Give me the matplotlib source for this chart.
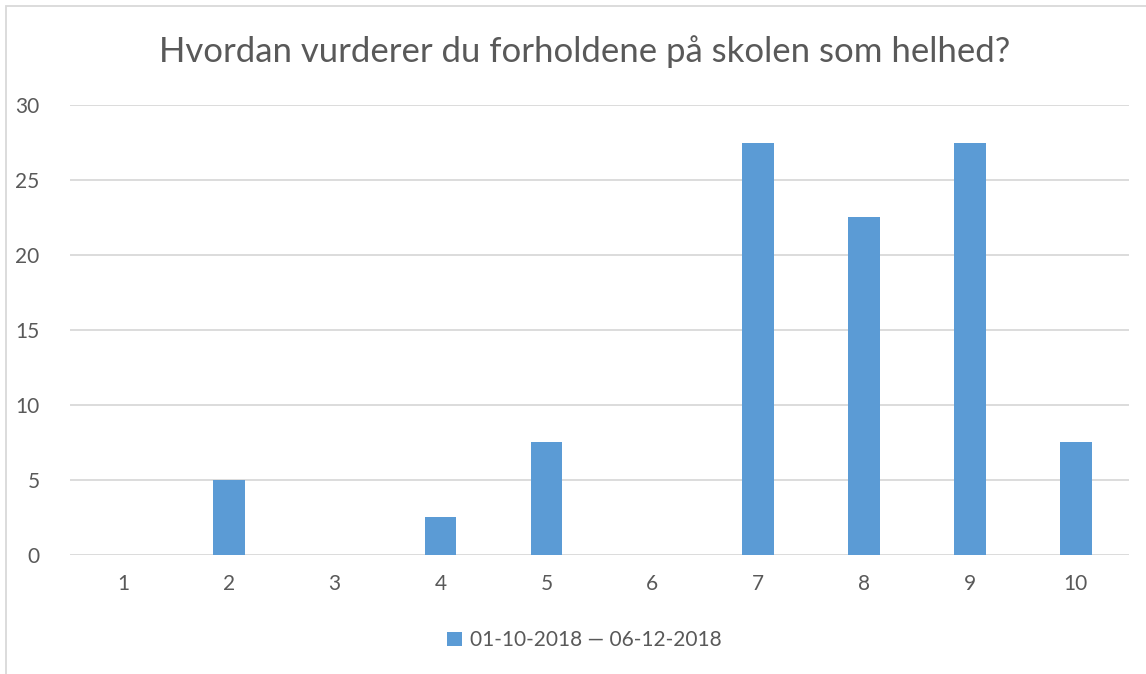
import numpy as np
import matplotlib.pyplot as plt
from matplotlib.patches import Rectangle

categories = ['1', '2', '3', '4', '5', '6', '7', '8', '9', '10']
values = [0, 5, 0, 2.5, 7.5, 0, 27.5, 22.5, 27.5, 7.5]
series_label = '01-10-2018 \u2014 06-12-2018'
title = 'Hvordan vurderer du forholdene på skolen som helhed?'

plt.rcParams['font.family'] = ['Lato', 'DejaVu Sans']
text_color = '#595959'

fig = plt.figure(figsize=(11.46, 6.74), dpi=100)
ax = fig.add_axes([0.0611, 0.1766, 0.9239, 0.6676])

x = np.arange(len(categories))
ax.bar(x, values, width=0.3, color='#5B9BD5', label=series_label, zorder=3)

ax.set_xlim(-0.5, len(categories) - 0.5)
ax.set_ylim(0, 30)
ax.set_yticks(np.arange(0, 31, 5))
ax.set_xticks(x)
ax.set_xticklabels(categories)
ax.grid(axis='y', color='#D9D9D9', linewidth=1.3, zorder=0)
for s in ax.spines.values():
    s.set_visible(False)
ax.tick_params(length=0, labelsize=15, colors=text_color)
ax.tick_params(axis='y', pad=22)
ax.tick_params(axis='x', pad=14)

fig.text(0.51, 0.924, title, ha='center', va='center', fontsize=25, color=text_color)

fig.legend(loc='center', bbox_to_anchor=(0.51, 0.05), frameon=False, fontsize=15,
           labelcolor=text_color, handlelength=0.7, handleheight=0.7, handletextpad=0.4)

# chart border (left and top visible)
fig.add_artist(Rectangle((6 / 1146, -0.1), 1.2, 1 - 6 / 674 + 0.1, transform=fig.transFigure,
                         fill=False, edgecolor='#D9D9D9', linewidth=1.3))

fig.savefig('out.png', dpi=100)
